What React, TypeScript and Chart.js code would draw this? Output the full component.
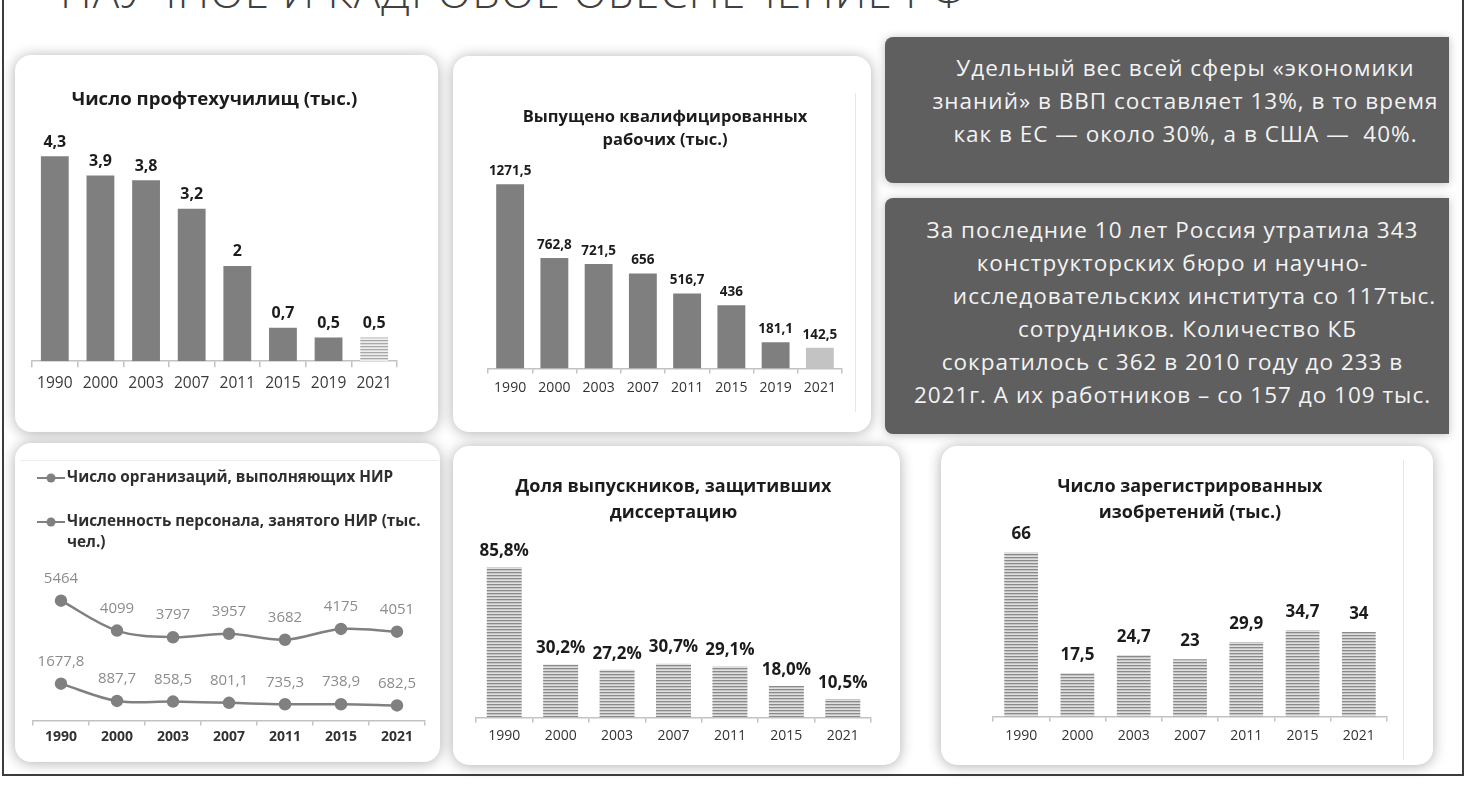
import React, { useEffect, useRef } from "react";
import { Chart, registerables } from "chart.js";

Chart.register(...registerables);

const FONT = "'Open Sans', Lato, 'Noto Sans', sans-serif";

// ---------- data ----------
const slideTitle = "НАУЧНОЕ И КАДРОВОЕ ОБЕСПЕЧЕНИЕ РФ";

const schoolTitle = ["Число профтехучилищ (тыс.)"];
const schoolYears = ["1990", "2000", "2003", "2007", "2011", "2015", "2019", "2021"];
const schoolValues = [4.3, 3.9, 3.8, 3.2, 2, 0.7, 0.5, 0.5];

const workerTitle = ["Выпущено квалифицированных", "рабочих (тыс.)"];
const workerYears = ["1990", "2000", "2003", "2007", "2011", "2015", "2019", "2021"];
const workerValues = [1271.5, 762.8, 721.5, 656, 516.7, 436, 181.1, 142.5];

const rdYears = ["1990", "2000", "2003", "2007", "2011", "2015", "2021"];
const orgLabel = "Число организаций, выполняющих НИР";
const orgValues = [5464, 4099, 3797, 3957, 3682, 4175, 4051];
const staffLabel = "Численность персонала, занятого НИР (тыс. чел.)";
const staffValues = [1677.8, 887.7, 858.5, 801.1, 735.3, 738.9, 682.5];

const thesisTitle = ["Доля выпускников, защитивших", "диссертацию"];
const thesisYears = ["1990", "2000", "2003", "2007", "2011", "2015", "2021"];
const thesisValues = [85.8, 30.2, 27.2, 30.7, 29.1, 18.0, 10.5];

const inventTitle = ["Число зарегистрированных", "изобретений (тыс.)"];
const inventYears = ["1990", "2000", "2003", "2007", "2011", "2015", "2021"];
const inventValues = [66, 17.5, 24.7, 23, 29.9, 34.7, 34];

const box1Lines = [
  "Удельный вес всей сферы «экономики",
  "знаний» в ВВП составляет 13%, в то время",
  "как в ЕС — около 30%, а в США —  40%.",
];
const box2Lines = [
  "За последние 10 лет Россия утратила 343",
  "конструкторских бюро и научно-",
  "исследовательских института со 117тыс.",
  "сотрудников. Количество КБ",
  "сократилось с 362 в 2010 году до 233 в",
  "2021г. А их работников – со 157 до 109 тыс.",
];

// ---------- helpers ----------
const comma = (v: number, digits?: number) =>
  (digits === undefined ? String(v) : v.toFixed(digits)).replace(".", ",");

function stripes(colors: string[]) {
  const c = document.createElement("canvas");
  c.width = 4;
  c.height = colors.length;
  const x = c.getContext("2d") as CanvasRenderingContext2D;
  colors.forEach((col, i) => {
    x.fillStyle = col;
    x.fillRect(0, i, 4, 1);
  });
  return x.createPattern(c, "repeat") as CanvasPattern;
}

function makeValueLabels(o: { format: (v: number) => string; font: string; color: string; offset: number }) {
  return {
    id: "valueLabels",
    afterDatasetsDraw(chart: any) {
      const ctx = chart.ctx as CanvasRenderingContext2D;
      chart.data.datasets.forEach((ds: any, di: number) => {
        const meta = chart.getDatasetMeta(di);
        meta.data.forEach((el: any, i: number) => {
          ctx.save();
          ctx.font = o.font;
          ctx.fillStyle = o.color;
          ctx.textAlign = "center";
          ctx.textBaseline = "middle";
          ctx.fillText(o.format(ds.data[i]), el.x, el.y - o.offset);
          ctx.restore();
        });
      });
    },
  };
}

function makeLineLegend(o: { x0: number; y0: number; markerW: number; gap: number; rowGap: number; lineGap: number; maxWidth: number; font: string; color: string }) {
  return {
    id: "lineLegend",
    afterDraw(chart: any) {
      const ctx = chart.ctx as CanvasRenderingContext2D;
      ctx.save();
      ctx.font = o.font;
      ctx.textBaseline = "middle";
      ctx.textAlign = "left";
      let y = o.y0;
      chart.data.datasets.forEach((ds: any) => {
        const col = ds.borderColor;
        ctx.strokeStyle = col;
        ctx.lineWidth = 2;
        ctx.beginPath();
        ctx.moveTo(o.x0, y);
        ctx.lineTo(o.x0 + o.markerW, y);
        ctx.stroke();
        ctx.fillStyle = col;
        ctx.beginPath();
        ctx.arc(o.x0 + o.markerW / 2, y, 4.5, 0, Math.PI * 2);
        ctx.fill();
        const words = String(ds.label).split(" ");
        const lines: string[] = [];
        let cur = "";
        words.forEach((w) => {
          const t = cur ? cur + " " + w : w;
          if (ctx.measureText(t).width > o.maxWidth && cur) {
            lines.push(cur);
            cur = w;
          } else cur = t;
        });
        if (cur) lines.push(cur);
        ctx.fillStyle = o.color;
        lines.forEach((ln, i) => ctx.fillText(ln, o.x0 + o.markerW + o.gap, y + i * o.lineGap));
        y += o.rowGap;
      });
      ctx.restore();
    },
  };
}

function barConfig(o: any) {
  return {
    type: "bar",
    data: {
      labels: o.labels,
      datasets: [
        {
          data: o.values,
          backgroundColor: o.colors,
          borderWidth: 0,
          categoryPercentage: 1,
          barPercentage: o.barPct,
        },
      ],
    },
    options: {
      responsive: false,
      animation: false,
      layout: { padding: o.pad },
      plugins: {
        legend: { display: false },
        tooltip: { enabled: false },
        title: {
          display: true,
          text: o.title,
          color: "#1c1c1c",
          font: { family: FONT, size: o.titleSize, weight: "bold", lineHeight: o.titleLH },
          padding: { top: 0, bottom: o.titleGap },
        },
      },
      scales: {
        x: {
          grid: {
            display: true,
            drawOnChartArea: false,
            drawTicks: true,
            tickLength: o.tickLen,
            color: "#c2c2c2",
            lineWidth: 1.5,
            offset: true,
          },
          border: { display: true, color: "#c2c2c2", width: 1.5 },
          ticks: {
            color: o.tickColor,
            padding: o.tickPad,
            autoSkip: false,
            maxRotation: 0,
            font: { family: FONT, size: o.tickSize, lineHeight: 1.2 },
          },
        },
        y: { display: false, min: 0, max: o.yMax },
      },
    },
    plugins: [makeValueLabels({ format: o.format, font: o.valueFont, color: "#1c1c1c", offset: o.valueOffset })],
  };
}

function ChartBox({ left, top, width, height, build }: { left: number; top: number; width: number; height: number; build: () => any }) {
  const ref = useRef<HTMLCanvasElement | null>(null);
  useEffect(() => {
    const chart = new Chart(ref.current as HTMLCanvasElement, build());
    return () => chart.destroy();
  }, []);
  return (
    <canvas
      ref={ref}
      width={width}
      height={height}
      style={{ position: "absolute", left, top, width, height, display: "block" }}
    />
  );
}

const BAR = "#7f7f7f";
const hatch = () => stripes(["#8a8a8a", "#c4c4c4", "#e0e0e0"]);
const hatchLight = () => stripes(["#a8a8a8", "#dadada", "#ededed"]);

const card = (left: number, top: number, width: number, height: number): React.CSSProperties => ({
  position: "absolute",
  left,
  top,
  width,
  height,
  background: "#ffffff",
  borderRadius: 16,
  boxShadow: "0 1px 14px rgba(0,0,0,0.32)",
});

const darkBox = (left: number, top: number, width: number, height: number): React.CSSProperties => ({
  position: "absolute",
  left,
  top,
  width,
  height,
  background: "#5f5f5f",
  borderRadius: "8px 0 0 8px",
  boxShadow: "0 1px 10px rgba(0,0,0,0.25)",
  color: "#f3f3f3",
  fontFamily: FONT,
  fontSize: 22.5,
  letterSpacing: 1,
  lineHeight: "33px",
  textAlign: "center",
  boxSizing: "border-box",
  whiteSpace: "pre",
});

export default function App() {
  return (
    <div
      style={{
        position: "fixed",
        left: 0,
        top: 0,
        width: 1479,
        height: 787,
        overflow: "hidden",
        background: "#ffffff",
        fontFamily: FONT,
      }}
    >
      {/* slide title (cut off at top) */}
      <div
        style={{
          position: "absolute",
          left: 60,
          top: -31,
          fontFamily: "'Open Sans', sans-serif",
          fontWeight: 300,
          fontSize: 44,
          lineHeight: "44px",
          letterSpacing: 1,
          color: "#404040",
          whiteSpace: "nowrap",
        }}
      >
        {slideTitle}
      </div>

      {/* cards */}
      <div style={card(15, 55, 423, 377)} />
      <div style={card(453, 56, 418, 376)} />
      <div style={card(15, 443, 425, 319)} />
      <div style={card(453, 446, 447, 319)} />
      <div style={card(941, 446, 492, 319)} />

      {/* faint decorative lines */}
      <div style={{ position: "absolute", left: 855, top: 93, width: 1, height: 319, background: "#e6e6e6" }} />
      <div style={{ position: "absolute", left: 1403, top: 460, width: 1, height: 300, background: "#e6e6e6" }} />
      <div style={{ position: "absolute", left: 20, top: 460, width: 418, height: 1, background: "#ececec" }} />

      {/* dark text boxes */}
      <div style={{ ...darkBox(885, 37, 564, 146), paddingLeft: 37, paddingTop: 14 }}>
        {box1Lines.map((l, i) => (
          <div key={i}>{l}</div>
        ))}
      </div>
      <div style={{ ...darkBox(885, 198, 564, 236), paddingLeft: 11, paddingTop: 15 }}>
        {box2Lines.map((l, i) => (
          <div key={i} style={{ paddingLeft: i === 2 ? 44 : i === 3 ? 30 : 0 }}>
            {l}
          </div>
        ))}
      </div>

      {/* chart 1 */}
      <ChartBox
        left={15}
        top={55}
        width={423}
        height={377}
        build={() =>
          barConfig({
            labels: schoolYears,
            values: schoolValues,
            colors: schoolValues.map((_, i) => (i === schoolValues.length - 1 ? hatchLight() : BAR)),
            barPct: 0.61,
            pad: { top: 34, left: 17, right: 41, bottom: 31.4 },
            title: schoolTitle,
            titleSize: 18.6,
            titleLH: 1.2,
            titleGap: 11.7,
            tickLen: 6,
            tickPad: 7.4,
            tickSize: 15.5,
            tickColor: "#3a3a3a",
            yMax: 5,
            format: (v: number) => comma(v),
            valueFont: `bold 16px ${FONT}`,
            valueOffset: 14,
          })
        }
      />

      {/* chart 2 */}
      <ChartBox
        left={453}
        top={56}
        width={418}
        height={376}
        build={() =>
          barConfig({
            labels: workerYears,
            values: workerValues,
            colors: workerValues.map((_, i) => (i === workerValues.length - 1 ? "#c3c3c3" : BAR)),
            barPct: 0.63,
            pad: { top: 49.5, left: 35, right: 29, bottom: 28.6 },
            title: workerTitle,
            titleSize: 16.5,
            titleLH: 1.394,
            titleGap: 6.9,
            tickLen: 5,
            tickPad: 6.6,
            tickSize: 14,
            tickColor: "#333333",
            yMax: 1450,
            format: (v: number) => comma(v),
            valueFont: `bold 13.5px ${FONT}`,
            valueOffset: 13,
          })
        }
      />

      {/* chart 4: line chart */}
      <ChartBox
        left={15}
        top={443}
        width={425}
        height={319}
        build={() => ({
          type: "line",
          data: {
            labels: rdYears,
            datasets: [
              {
                label: orgLabel,
                data: orgValues,
                borderColor: "#808080",
                backgroundColor: "#808080",
                borderWidth: 2.5,
                pointRadius: 5,
                pointBackgroundColor: "#808080",
                pointBorderColor: "#808080",
                tension: 0.35,
              },
              {
                label: staffLabel,
                data: staffValues,
                borderColor: "#808080",
                backgroundColor: "#808080",
                borderWidth: 2.5,
                pointRadius: 5,
                pointBackgroundColor: "#808080",
                pointBorderColor: "#808080",
                tension: 0.35,
              },
            ],
          },
          options: {
            responsive: false,
            animation: false,
            layout: { padding: { top: 135, left: 18, right: 15, bottom: 12.6 } },
            plugins: { legend: { display: false }, tooltip: { enabled: false } },
            scales: {
              x: {
                offset: true,
                grid: {
                  display: true,
                  drawOnChartArea: false,
                  drawTicks: true,
                  tickLength: 5,
                  color: "#c2c2c2",
                  lineWidth: 1.5,
                  offset: true,
                },
                border: { display: true, color: "#c2c2c2", width: 1.5 },
                ticks: {
                  color: "#333333",
                  padding: 3.6,
                  autoSkip: false,
                  maxRotation: 0,
                  font: { family: FONT, size: 14, weight: "bold", lineHeight: 1.2 },
                },
              },
              y: { display: false, min: 0, max: 6500 },
            },
          },
          plugins: [
            makeLineLegend({
              x0: 22,
              y0: 35,
              markerW: 28,
              gap: 2,
              rowGap: 44,
              lineGap: 21,
              maxWidth: 362,
              font: `bold 15.3px ${FONT}`,
              color: "#2e2e2e",
            }),
            makeValueLabels({ format: (v: number) => comma(v), font: `15px ${FONT}`, color: "#8c8c8c", offset: 22 }),
          ],
        })}
      />

      {/* chart 5 */}
      <ChartBox
        left={453}
        top={446}
        width={447}
        height={319}
        build={() =>
          barConfig({
            labels: thesisYears,
            values: thesisValues,
            colors: thesisValues.map(() => hatch()),
            barPct: 0.62,
            pad: { top: 28, left: 23, right: 29, bottom: 14.6 },
            title: thesisTitle,
            titleSize: 18,
            titleLH: 1.444,
            titleGap: 16.3,
            tickLen: 5,
            tickPad: 5.6,
            tickSize: 14,
            tickColor: "#333333",
            yMax: 100,
            format: (v: number) => comma(v, 1) + "%",
            valueFont: `bold 17px ${FONT}`,
            valueOffset: 16,
          })
        }
      />

      {/* chart 6 */}
      <ChartBox
        left={941}
        top={446}
        width={492}
        height={319}
        build={() =>
          barConfig({
            labels: inventYears,
            values: inventValues,
            colors: inventValues.map(() => hatch()),
            barPct: 0.6,
            pad: { top: 28, left: 52, right: 46, bottom: 13.6 },
            title: inventTitle,
            titleSize: 18,
            titleLH: 1.444,
            titleGap: 11.5,
            tickLen: 5,
            tickPad: 6.6,
            tickSize: 14,
            tickColor: "#333333",
            yMax: 72,
            format: (v: number) => comma(v),
            valueFont: `bold 17px ${FONT}`,
            valueOffset: 18,
          })
        }
      />

      {/* outer frame */}
      <div
        style={{
          position: "absolute",
          left: 2,
          top: -4,
          width: 1458,
          height: 778,
          borderLeft: "2px solid #3c3c3c",
          borderRight: "2px solid #3c3c3c",
          borderBottom: "2px solid #3c3c3c",
          pointerEvents: "none",
        }}
      />
    </div>
  );
}
